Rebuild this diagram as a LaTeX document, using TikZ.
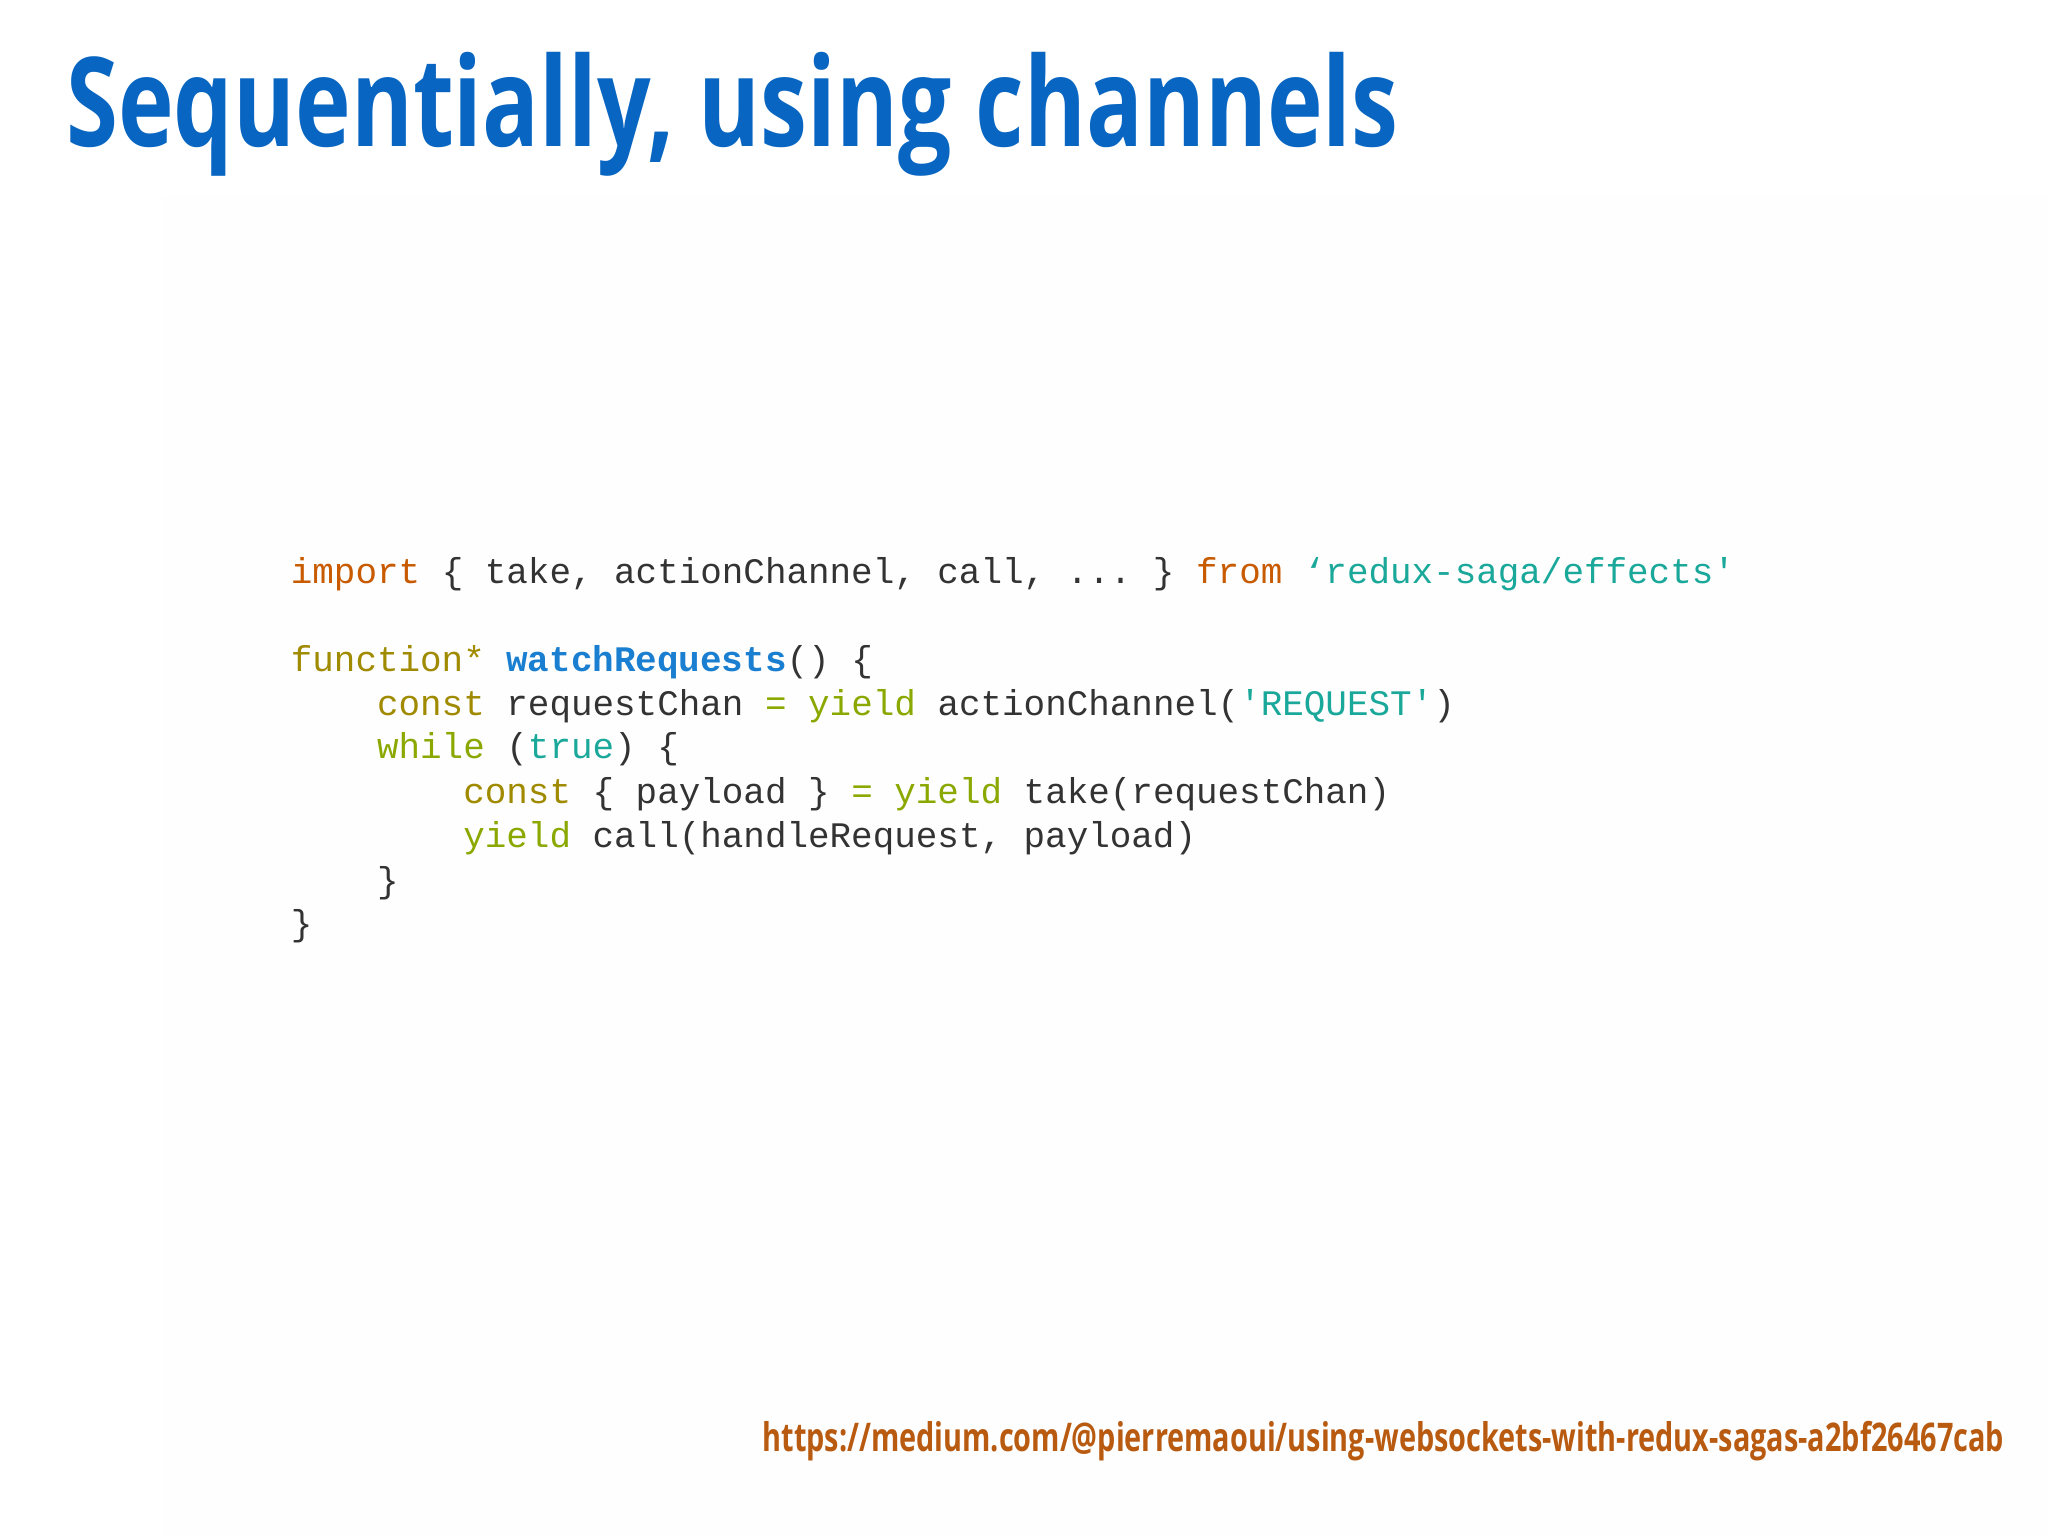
\documentclass[tikz,border=0pt]{standalone}
\usepackage{fontspec}
\setmonofont{Liberation Mono}
\newfontfamily\titlefont[FakeStretch=0.76]{Open Sans}
\newfontfamily\urlfont[FakeStretch=0.73]{Open Sans}
\definecolor{ttl}{HTML}{0866C2}
\definecolor{kwo}{HTML}{C85A00}
\definecolor{kwy}{HTML}{A08A00}
\definecolor{kwg}{HTML}{8AA800}
\definecolor{str}{HTML}{1AA89A}
\definecolor{fn}{HTML}{1A7FD0}
\definecolor{txt}{HTML}{333333}
\definecolor{url}{HTML}{B85A10}
\begin{document}
\begin{tikzpicture}[x=0.01cm,y=-0.01cm,
  code/.style={anchor=base west,inner sep=0pt,font=\ttfamily\fontsize{7.82}{9}\selectfont,text=txt}]
\useasboundingbox (0,0) rectangle (1568,1176);
\fill[white] (0,0) rectangle (1568,1176);
\fill[gray!1] (125,150) rectangle (1568,1176);
\node[anchor=base west,inner sep=0pt,text=ttl,font=\titlefont\bfseries\fontsize{27}{30}\selectfont] (title) at (50,112) {Sequentially, using channels};
\node[code] (l1) at (222,447) {\textcolor{kwo}{import} \{ take, actionChannel, call, ... \} \textcolor{kwo}{from} \textcolor{str}{‘redux-saga/effects'}};
\node[code] (l2) at (222,514) {\textcolor{kwy}{function*} \textcolor{fn}{\bfseries watchRequests}() \{};
\node[code] (l3) at (222,548) {\phantom{xxxx}\textcolor{kwy}{const} requestChan \textcolor{kwg}{= yield} actionChannel(\textcolor{str}{'REQUEST'})};
\node[code] (l4) at (222,581) {\phantom{xxxx}\textcolor{kwg}{while} (\textcolor{str}{true}) \{};
\node[code] (l5) at (222,615) {\phantom{xxxxxxxx}\textcolor{kwy}{const} \{ payload \} \textcolor{kwg}{= yield} take(requestChan)};
\node[code] (l6) at (222,649) {\phantom{xxxxxxxx}\textcolor{kwg}{yield} call(handleRequest, payload)};
\node[code] (l7) at (222,683) {\phantom{xxxx}\}};
\node[code] (l8) at (222,716) {\}};
\node[anchor=base east,inner sep=0pt,text=url,font=\urlfont\bfseries\fontsize{8.6}{10}\selectfont] (url) at (1535,1111) {https://medium.com/@pierremaoui/using-websockets-with-redux-sagas-a2bf26467cab};
\end{tikzpicture}
\end{document}
